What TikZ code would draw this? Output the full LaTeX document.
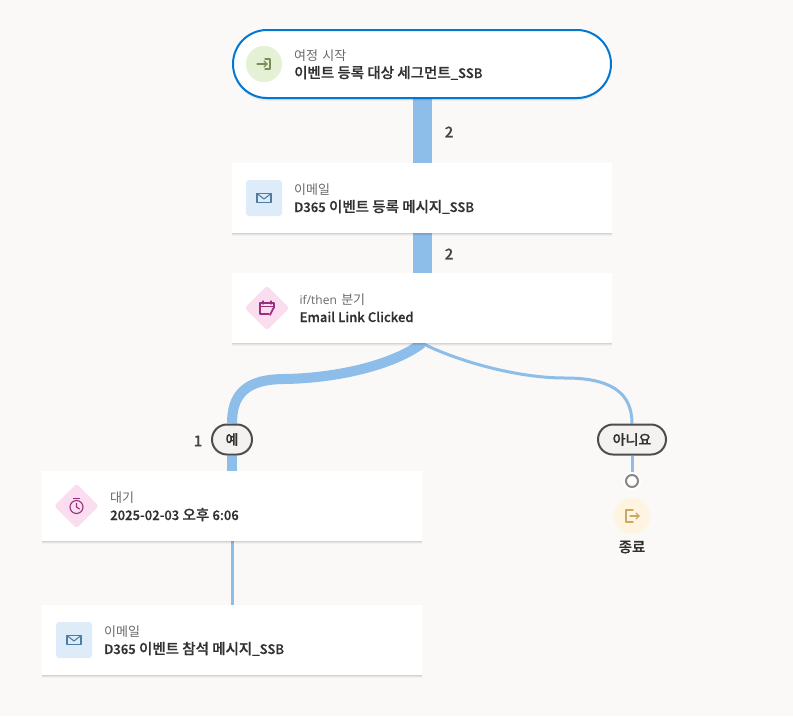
\documentclass[tikz,border=0pt]{standalone}
\usepackage{fontspec}
\setmainfont[WordSpace=1.5]{Noto Sans CJK KR}
\newfontfamily\titleface[WordSpace=1.7,FakeBold=0.6]{Noto Sans CJK KR Medium}
\newfontfamily\latinface{Open Sans}
\newfontfamily\latintitle[FakeBold=0.6]{Noto Sans CJK KR Medium}
\usetikzlibrary{shapes.geometric,backgrounds,shadows}
\newcommand{\smalllat}[1]{{\latinface\fontsize{12}{14}\selectfont #1}}
\newcommand{\titlelat}[1]{{\latintitle\fontsize{13.1}{16}\selectfont #1}}
\definecolor{pagebg}{HTML}{FAF9F8}
\definecolor{flow}{HTML}{8DBDE9}
\definecolor{startblue}{HTML}{0078D4}
\definecolor{inktitle}{HTML}{323130}
\definecolor{inklabel}{HTML}{6B6967}
\definecolor{pillfill}{HTML}{F3F2F1}
\definecolor{pillline}{HTML}{4F4D4B}
\definecolor{ringgray}{HTML}{8A8886}
\definecolor{greenbg}{HTML}{E5F1D5}
\definecolor{bluebg}{HTML}{DEECF9}
\definecolor{pinkbg}{HTML}{FBDDF0}
\definecolor{amberbg}{HTML}{FFF4E0}
\definecolor{greenink}{HTML}{7A8D5C}
\definecolor{blueink}{HTML}{4F7CA3}
\definecolor{pinkink}{HTML}{9A2E80}
\definecolor{amberink}{HTML}{CBA866}
\tikzset{
  softshadow/.style={
    drop shadow={shadow xshift=0pt,shadow yshift=-3pt,opacity=.03,fill=black},
    drop shadow={shadow xshift=0pt,shadow yshift=-2pt,opacity=.05,fill=black},
    drop shadow={shadow xshift=0pt,shadow yshift=-1pt,opacity=.07,fill=black}},
  card/.style={rectangle, fill=white, minimum width=380pt, minimum height=70pt, inner sep=0pt, softshadow},
  startcard/.style={rectangle, rounded corners=34pt, draw=startblue, line width=2pt, fill=white,
    minimum width=378pt, minimum height=68pt, inner sep=0pt, softshadow},
  squareicon/.style={rectangle, rounded corners=3pt, fill=bluebg, minimum size=36pt, inner sep=0pt},
  diamondicon/.style={diamond, rounded corners=3pt, fill=pinkbg, minimum size=45pt, inner sep=0pt},
  roundicon/.style={circle, minimum size=36pt, inner sep=0pt},
  smalltext/.style={anchor=base west, inner sep=0pt, text=inklabel, font=\fontsize{13}{14}\selectfont},
  titletext/.style={anchor=base west, inner sep=0pt, text=inktitle, font=\fontsize{14.5}{16}\titleface},
  counttext/.style={inner sep=0pt, text=inktitle!90, font=\fontsize{15}{16}\titleface},
  pill/.style={rectangle, rounded corners=15pt, draw=pillline, line width=2pt, fill=pillfill,
    minimum height=30pt, inner sep=0pt, text=inktitle, font=\fontsize{14}{15}\titleface},
  thickflow/.style={draw=flow, line width=19pt},
  midflow/.style={draw=flow, line width=10pt},
  thinflow/.style={draw=flow, line width=3pt},
  glyph/.style={line width=1.1pt, line cap=round, line join=round},
  pics/mailglyph/.style={code={
    \draw[glyph, blueink, line width=1.4pt] (-7,-4.5) rectangle (7,4.5);
    \draw[glyph, blueink] (-7,-4.5) -- (0,1) -- (7,-4.5);
  }},
  pics/enterglyph/.style={code={
    \draw[glyph, greenink] (1,-5) -- (6,-5) -- (6,5) -- (1,5);
    \draw[glyph, greenink] (-7,0) -- (3,0);
    \draw[glyph, greenink] (0,-3) -- (3,0) -- (0,3);
  }},
  pics/exitglyph/.style={code={
    \draw[glyph, amberink] (1,-6) -- (-6,-6) -- (-6,6) -- (1,6);
    \draw[glyph, amberink] (-2,0) -- (7,0);
    \draw[glyph, amberink] (4,-3) -- (7,0) -- (4,3);
  }},
  pics/calendarglyph/.style={code={
    \draw[glyph, pinkink] (2,6) -- (-7,6) -- (-7,-5) -- (7,-5) -- (7,0);
    \draw[glyph, pinkink] (-7,-1.5) -- (7,-1.5);
    \draw[glyph, pinkink] (-4,-7) -- (-4,-4) (4,-7) -- (4,-4);
    \draw[glyph, pinkink, line width=1.6pt] (3,7) -- (7,-1);
  }},
  pics/watchglyph/.style={code={
    \draw[glyph, pinkink] (0,1) circle (6.5);
    \draw[glyph, pinkink] (-3,-7.5) -- (3,-7.5);
    \draw[glyph, pinkink] (0,-2.5) -- (0,1) -- (3,3);
  }}
}

\begin{document}
\begin{tikzpicture}[x=1pt, y=-1pt]
  \useasboundingbox (0,0) rectangle (793,716);

  % boxes
  \node[startcard] (start) at (422,64) {};
  \node[card] (mailreg) at (422,198) {};
  \node[card] (branch) at (422,308) {};
  \node[card] (wait) at (232,506) {};
  \node[card] (mailjoin) at (232,640) {};

  % branch pills and exit
  \node[pill, minimum width=40pt] (yes) at (232,439.5) {예};
  \node[pill, minimum width=68pt] (no) at (632,439.5) {아니요};
  \node[circle, draw=ringgray, line width=2pt, fill=white, minimum size=12pt, inner sep=0pt,
    preaction={draw=white, line width=6pt}] (endring) at (632,481) {};
  \node[roundicon, fill=amberbg] (endicon) at (632,516) {};
  \node[inner sep=0pt, text=inktitle, font=\fontsize{14.5}{15}\titleface] (endtext) at (632,547) {종료};

  % icons
  \node[roundicon, fill=greenbg] (starticon) at (264,64) {};
  \node[squareicon] (mailregicon) at (264,198) {};
  \node[diamondicon] (branchicon) at (267,308) {};
  \node[diamondicon] (waiticon) at (76.5,506) {};
  \node[squareicon] (mailjoinicon) at (74,640) {};
  \pic at (starticon) {enterglyph};
  \pic at (mailregicon) {mailglyph};
  \pic at (branchicon) {calendarglyph};
  \pic at (waiticon) {watchglyph};
  \pic at (mailjoinicon) {mailglyph};
  \pic at (endicon) {exitglyph};

  % texts
  \node[smalltext] (startlabel) at (294,60) {여정 시작};
  \node[titletext] (starttitle) at (294,78) {이벤트 등록 대상 세그먼트\titlelat{\_SSB}};
  \node[smalltext] (mailreglabel) at (294,194) {이메일};
  \node[titletext] (mailregtitle) at (294,212) {\titlelat{D365} 이벤트 등록 메시지\titlelat{\_SSB}};
  \node[smalltext] (branchlabel) at (299.5,304.5) {\smalllat{if/then} 분기};
  \node[titletext] (branchtitle) at (299.5,322) {\titlelat{Email Link Clicked}};
  \node[smalltext] (waitlabel) at (110,502) {대기};
  \node[titletext] (waittitle) at (110,520) {\titlelat{2025-02-03} 오후 \titlelat{6:06}};
  \node[smalltext] (mailjoinlabel) at (104,636) {이메일};
  \node[titletext] (mailjointitle) at (104,654) {\titlelat{D365} 이벤트 참석 메시지\titlelat{\_SSB}};

  % counts
  \node[counttext] (countone) at (449,132) {2};
  \node[counttext] (counttwo) at (449,254) {2};
  \node[counttext] (countyes) at (198,441) {1};

  % flows
  \begin{scope}[on background layer]
    \fill[pagebg] (0,0) rectangle (793,716);
    \coordinate (yesbend) at (285,379);
    \coordinate (nobend) at (565,378);
    \draw[thickflow] (start.south) -- (mailreg.north);
    \draw[thickflow] (mailreg.south) -- (branch.north);
    \draw[midflow] (branch.south) .. controls (395,364) and (340,378) .. (yesbend)
      .. controls (245,379) and (232,395) .. (yes.north);
    \draw[midflow] (yes.south) -- (wait.north);
    \draw[thinflow] (branch.south) .. controls (455,360) and (515,378) .. (nobend)
      .. controls (610,378) and (632,392) .. (no.north);
    \draw[thinflow] (no.south) -- (endring.north);
    \draw[thinflow] (wait.south) -- (mailjoin.north);
  \end{scope}
\end{tikzpicture}
\end{document}
